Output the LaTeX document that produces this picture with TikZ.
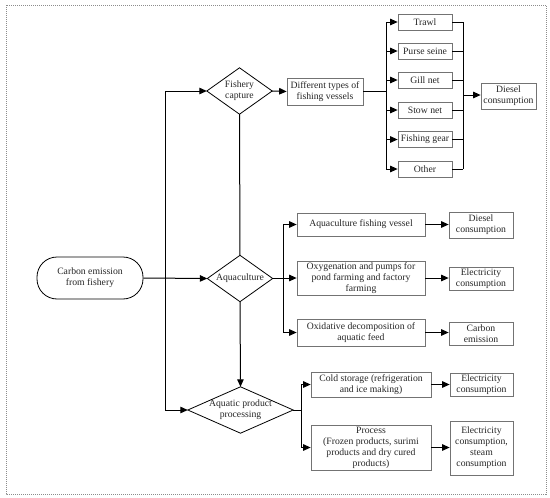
\documentclass[tikz,border=0pt]{standalone}
\usepackage{fontspec}
\setmainfont{Liberation Serif}
\usetikzlibrary{arrows.meta}
\begin{document}
\begin{tikzpicture}[x=1pt,y=-1pt,
  every node/.style={font=\fontsize{9.7}{11}\selectfont, text=black!85, align=center, inner sep=1pt},
  box/.style={draw=black!55, line width=0.7pt, rectangle},
  dia/.style={rectangle, inner sep=0pt},
  diaedge/.style={draw=black, line width=0.8pt, line join=miter},
  stad/.style={draw=black, line width=0.8pt, rectangle, rounded corners=20pt},
  conn/.style={draw=black, line width=1pt},
  arr/.style={conn, -{Triangle[length=7.5pt,width=6.5pt]}},
  border/.style={draw=black!45, line width=0.6pt, dash pattern=on 1pt off 1pt}
]
\useasboundingbox (0,0) rectangle (550,498);
\path[border] (6,5) rectangle (546,494);

% main nodes
\node[stad, minimum width=106pt, minimum height=42pt] (ce) at (90,278) {Carbon emission\\from fishery};
\node[dia, minimum width=65pt, minimum height=46pt] (fc) at (239.5,91) {Fishery\\capture};
\node[dia, minimum width=65pt, minimum height=46pt] (aq) at (240,278.5) {Aquaculture};
\node[dia, minimum width=105pt, minimum height=46pt] (app) at (240.5,410) {Aquatic product\\processing};
\foreach \d in {fc,aq,app}{
  \draw[diaedge] (\d.west) -- (\d.north) -- (\d.east) -- (\d.south) -- cycle;
}

% fishery capture branch
\node[box, minimum width=76pt, minimum height=27pt] (dt) at (325,91.5) {Different types of\\fishing vessels};
\node[box, minimum width=54pt, minimum height=16pt] (t1) at (425,22) {Trawl};
\node[box, minimum width=54pt, minimum height=16pt] (t2) at (425,51) {Purse seine};
\node[box, minimum width=54pt, minimum height=16pt] (t3) at (425,80) {Gill net};
\node[box, minimum width=54pt, minimum height=16pt] (t4) at (425,110) {Stow net};
\node[box, minimum width=54pt, minimum height=16pt] (t5) at (425,139.5) {Fishing gear};
\node[box, minimum width=54pt, minimum height=16pt] (t6) at (425,169) {Other};
\node[box, minimum width=55pt, minimum height=26pt] (dc) at (508.5,96) {Diesel\\consumption};

% aquaculture branch
\node[box, minimum width=128pt, minimum height=23pt] (a1) at (361,224.5) {Aquaculture fishing vessel};
\node[box, minimum width=128pt, minimum height=34pt] (a2) at (361,278) {Oxygenation and pumps for\\pond farming and factory\\farming};
\node[box, minimum width=128pt, minimum height=27pt] (a3) at (361,332.5) {Oxidative decomposition of\\aquatic feed};
\node[box, minimum width=64pt, minimum height=26pt] (r1) at (481,225) {Diesel\\consumption};
\node[box, minimum width=64pt, minimum height=23pt] (r2) at (481,278.5) {Electricity\\consumption};
\node[box, minimum width=64pt, minimum height=23pt] (r3) at (481,333.5) {Carbon\\emission};

% processing branch
\node[box, minimum width=120pt, minimum height=25pt] (p1) at (371,384.5) {Cold storage (refrigeration\\and ice making)};
\node[box, minimum width=120pt, minimum height=45pt] (p2) at (371,447.5) {Process\\(Frozen products, surimi\\products and dry cured\\products)};
\node[box, minimum width=63pt, minimum height=23pt] (q1) at (481.5,384.5) {Electricity\\consumption};
\node[box, minimum width=63pt, minimum height=54pt] (q2) at (481.5,448) {Electricity\\consumption,\\steam\\consumption};

% junction coordinates
\coordinate (sp) at (165,278);
\coordinate (jf) at (386,91.5);
\coordinate (jc) at (463,95);
\coordinate (ja) at (283,278.5);
\coordinate (jp) at (301,410);

% main connectors
\draw[arr] (ce.east) -- (aq.west);
\draw[arr] (sp |- fc.west) -- (fc.west);
\draw[arr] (sp |- fc.west) -- (sp |- app.west) -- (app.west);
\draw[conn] (fc.south) -- (aq.north);
\draw[arr] (aq.south) -- (app.north);

% fishery capture connectors
\draw[arr] (fc.east) -- (dt.west);
\draw[conn] (dt.east) -- (jf);
\draw[conn] (jf |- t1.west) -- (jf |- t6.west);
\foreach \n in {t1,t2,t3,t4,t5,t6}{
  \draw[arr] (jf |- \n.west) -- (\n.west);
  \draw[conn] (\n.east) -- (jc |- \n.east);
}
\draw[conn] (jc |- t1.east) -- (jc |- t6.east);
\draw[arr] (jc) -- (dc.west |- jc);

% aquaculture connectors
\draw[conn] (aq.east) -- (ja);
\draw[conn] (ja |- a1.west) -- (ja |- a3.west);
\foreach \n in {a1,a2,a3}{
  \draw[arr] (ja |- \n.west) -- (\n.west);
}
\draw[arr] (a1.east) -- (r1.west |- a1.east);
\draw[arr] (a2.east) -- (r2.west |- a2.east);
\draw[arr] (a3.east) -- (r3.west |- a3.east);

% processing connectors
\draw[conn] (app.east) -- (jp);
\draw[conn] (jp |- p1.west) -- (jp |- p2.west);
\foreach \n in {p1,p2}{
  \draw[arr] (jp |- \n.west) -- (\n.west);
}
\draw[arr] (p1.east) -- (q1.west |- p1.east);
\draw[arr] (p2.east) -- (q2.west |- p2.east);
\end{tikzpicture}
\end{document}
